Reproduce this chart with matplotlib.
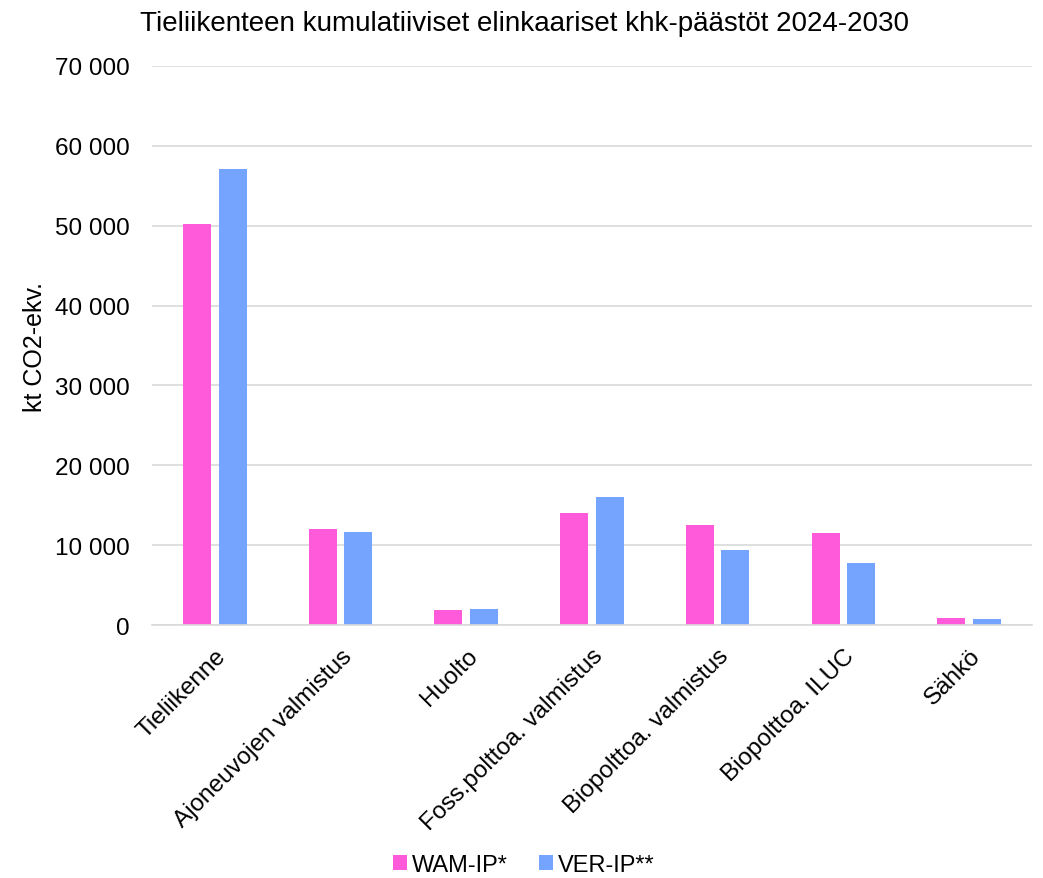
import numpy as np
import matplotlib.pyplot as plt

plt.rcParams['font.family'] = ['Liberation Sans', 'DejaVu Sans']

categories = ['Tieliikenne', 'Ajoneuvojen valmistus', 'Huolto', 'Foss.polttoa. valmistus',
              'Biopolttoa. valmistus', 'Biopolttoa. ILUC', 'Sähkö']
wam_ip = [50200, 12000, 1900, 14000, 12500, 11500, 900]
ver_ip = [57100, 11700, 2000, 16000, 9400, 7800, 700]

fig = plt.figure(figsize=(10.43, 8.79), dpi=100)
ax = fig.add_axes([0.1457, 0.2878, 0.8437, 0.636])

x = np.arange(len(categories))
w = 0.223
off = w / 2 + 0.03
ax.bar(x - off, wam_ip, w, color='#ff5ad9', label='WAM-IP*')
ax.bar(x + off, ver_ip, w, color='#75a4ff', label='VER-IP**')

ax.set_xlim(-0.5, len(categories) - 0.5)
ax.set_ylim(0, 70000)
ax.set_yticks(range(0, 70001, 10000))
ax.set_yticklabels([f'{v:,}'.replace(',', ' ') for v in range(0, 70001, 10000)])
ax.yaxis.grid(True, color='#d9d9d9', linewidth=1.2)
ax.set_axisbelow(True)
for s in ['top', 'right', 'left']:
    ax.spines[s].set_visible(False)
ax.spines['bottom'].set_color('#d9d9d9')
ax.spines['bottom'].set_linewidth(1.2)
ax.tick_params(axis='both', length=0, labelsize=17.5)
ax.tick_params(axis='y', pad=16)
ax.tick_params(axis='x', pad=14)

ax.set_xticks(x)
ax.set_xticklabels(categories, rotation=45, ha='right', rotation_mode='anchor')
ax.set_ylabel('kt CO2-ekv.', fontsize=18)
ax.yaxis.set_label_coords(-0.119, 0.5)
fig.text(0.503, 0.973, 'Tieliikenteen kumulatiiviset elinkaariset khk-päästöt 2024-2030',
         ha='center', va='center', fontsize=20)

fig.legend(loc='center', bbox_to_anchor=(0.502, 0.0148), ncol=2, frameon=False,
           fontsize=17, handlelength=0.6, handleheight=0.6, handletextpad=0.2,
           columnspacing=1.3)

fig.savefig('out.png', dpi=100)
